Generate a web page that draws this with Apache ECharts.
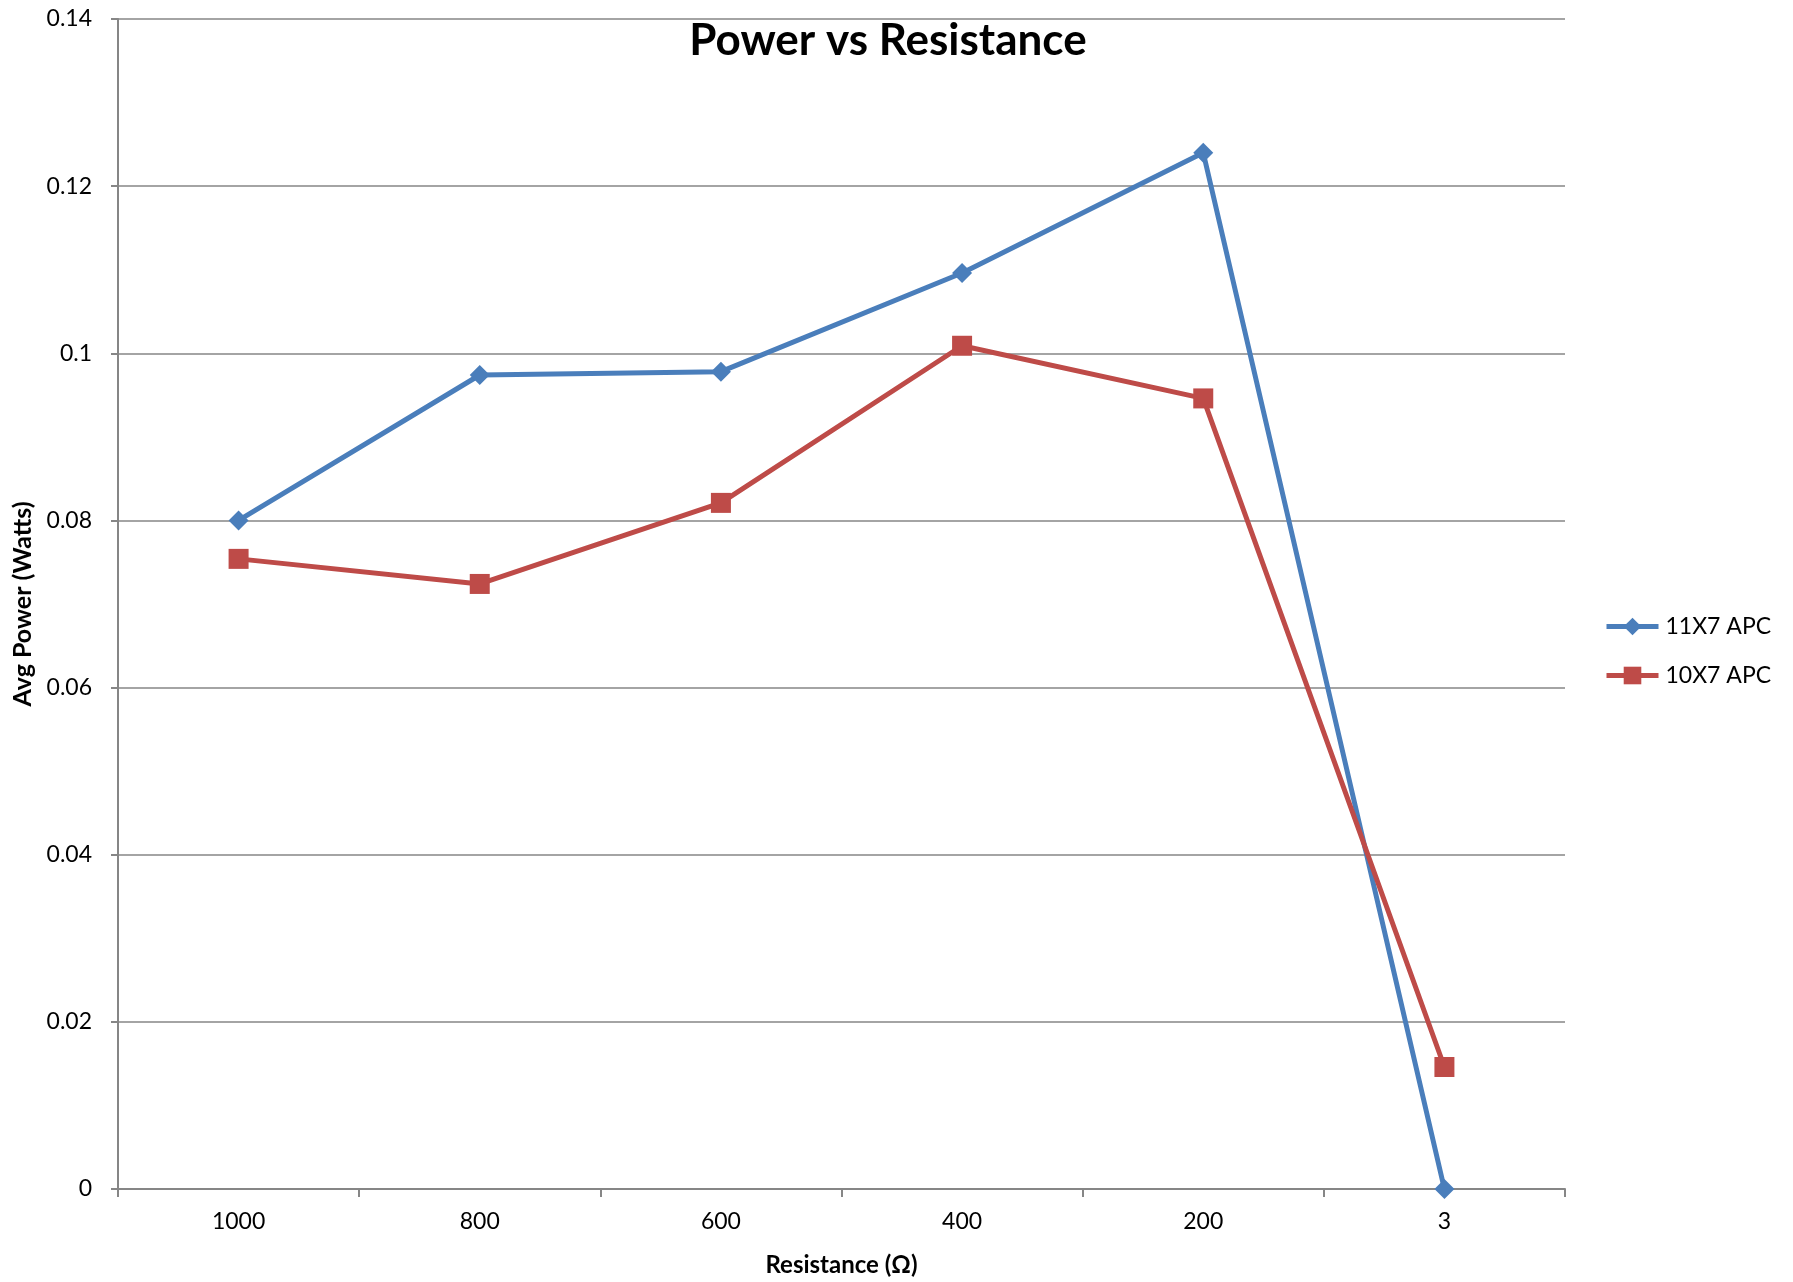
<!DOCTYPE html>
<html><head><meta charset="utf-8">
<script src="https://cdn.jsdelivr.net/npm/echarts@6/dist/echarts.min.js"></script>
<style>html,body{margin:0;padding:0;background:#fff}#c{width:1793px;height:1282px}</style>
</head><body><div id="c"></div>
<script>
const categories = ['1000', '800', '600', '400', '200', '3'];
const series11x7 = [0.0800, 0.0974, 0.0978, 0.1096, 0.1240, 0.0000];
const series10x7 = [0.0754, 0.0724, 0.0821, 0.1009, 0.0946, 0.0146];
const yTicks = { min: 0, max: 0.14, interval: 0.02 };

const FONT = 'Lato, "Open Sans", sans-serif';
const chart = echarts.init(document.getElementById('c'));
chart.setOption({
  animation: false,
  backgroundColor: '#fff',
  title: {
    text: 'Power vs Resistance', left: 883, textAlign: 'center', top: 14,
    textStyle: { fontFamily: FONT, fontSize: 44, fontWeight: 'bold', color: '#000' }
  },
  legend: {
    orient: 'vertical', left: 1599, top: 610, itemGap: 26,
    itemWidth: 52, itemHeight: 22,
    lineStyle: { width: 5 },
    textStyle: { fontFamily: FONT, fontSize: 23, color: '#000', padding: [0, 0, 0, 2] },
    data: ['11X7 APC', '10X7 APC']
  },
  grid: { left: 118, right: 228, top: 19, bottom: 93, containLabel: false, outerBoundsMode: 'none' },
  xAxis: {
    type: 'category', data: categories, boundaryGap: true,
    name: 'Resistance (Ω)', nameLocation: 'middle', nameGap: 64,
    nameTextStyle: { fontFamily: FONT, fontSize: 24, fontWeight: 'bold', color: '#000' },
    axisLine: { lineStyle: { color: '#868686', width: 2 } },
    axisTick: { show: true, alignWithLabel: false, length: 8, lineStyle: { color: '#868686', width: 2 } },
    axisLabel: { fontFamily: FONT, fontSize: 23, color: '#000', margin: 21 }
  },
  yAxis: {
    type: 'value', min: yTicks.min, max: yTicks.max, interval: yTicks.interval,
    name: 'Avg Power (Watts)', nameLocation: 'middle', nameGap: 82, nameRotate: 90,
    nameTextStyle: { fontFamily: FONT, fontSize: 25, fontWeight: 'bold', color: '#000' },
    axisLine: { show: true, lineStyle: { color: '#868686', width: 2 } },
    axisTick: { show: true, length: 7, lineStyle: { color: '#868686', width: 2 } },
    splitLine: { show: true, lineStyle: { color: '#868686', width: 1.5 } },
    axisLabel: { fontFamily: FONT, fontSize: 23, color: '#000', margin: 26,
      formatter: v => String(parseFloat(v.toFixed(2))) }
  },
  series: [
    { name: '11X7 APC', type: 'line', data: series11x7, symbol: 'diamond', symbolSize: 20,
      color: '#4A7EBB', lineStyle: { width: 5, color: '#4A7EBB' }, itemStyle: { color: '#4A7EBB' } },
    { name: '10X7 APC', type: 'line', data: series10x7, symbol: 'rect', symbolSize: 20,
      color: '#BE4B48', lineStyle: { width: 5, color: '#BE4B48' }, itemStyle: { color: '#BE4B48' } }
  ]
});
</script></body></html>
